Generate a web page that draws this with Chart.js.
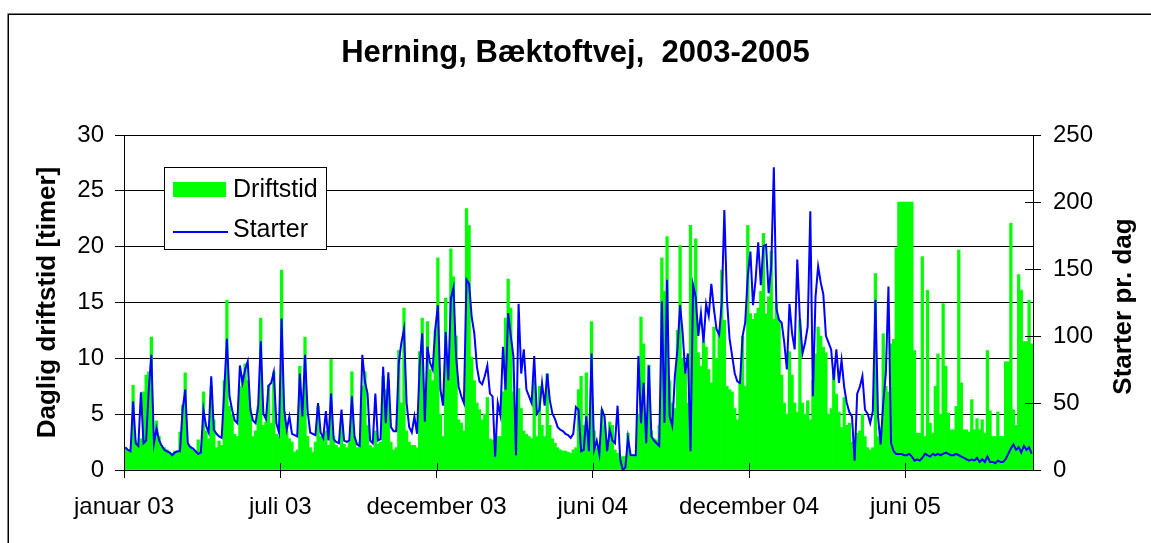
<!DOCTYPE html>
<html>
<head>
<meta charset="utf-8">
<script src="https://cdn.jsdelivr.net/npm/chart.js@4.4.1/dist/chart.umd.min.js"></script>
<style>
html,body{margin:0;padding:0;background:#fff;overflow:hidden}
#wrap{position:relative;width:1151px;height:543px}
</style>
</head>
<body>
<div id="wrap"><canvas id="c" width="1151" height="543"></canvas></div>
<script>
// ---------- data ----------
const titleText = 'Herning, Bæktoftvej,  2003-2005';
const leftAxisTitle = 'Daglig driftstid [timer]';
const rightAxisTitle = 'Starter pr. dag';
const seriesNames = ['Driftstid', 'Starter'];
// x categories: consecutive 3-day samples from start of January 2003
const tickLabels = ['januar 03', 'juli 03', 'december 03', 'juni 04', 'december 04', 'juni 05'];
const tickSamples = [-0.5, 59.5, 119.5, 179.5, 239.5, 299.5];

// daily operating time (hours), one value per 3-day sample
const driftstid = [
1.9,1.8,1.7,7.6,2.6,2.3,2.8,7.0,8.5,8.8,
11.9,2.6,4.4,3.0,2.2,2.0,1.8,1.6,1.5,1.7,
1.6,3.4,5.8,8.7,2.3,2.1,1.8,1.6,2.7,1.7,
7.0,3.5,2.8,7.5,4.5,2.0,2.6,2.2,8.0,15.2,
5.7,5.0,3.2,3.0,7.5,8.5,9.5,8.0,5.5,3.0,
3.5,5.7,13.6,4.0,4.3,7.6,4.2,8.8,3.2,3.0,
17.9,5.2,3.5,2.8,2.5,1.6,1.8,9.3,5.0,11.9,
3.0,2.0,1.6,2.5,5.7,3.0,2.8,3.5,2.2,9.9,
3.0,2.2,2.0,4.2,2.3,2.0,2.5,8.8,3.0,2.0,
2.5,7.5,8.8,4.0,2.2,2.0,3.5,2.3,2.5,8.4,
7.2,8.0,2.5,1.8,2.0,10.7,6.0,14.5,3.5,2.5,
2.2,2.2,2.0,10.6,13.6,7.0,13.3,9.0,8.0,12.5,
19.0,5.0,3.0,15.4,9.0,19.8,17.3,12.0,4.5,4.2,
3.5,23.4,21.9,10.1,8.0,6.0,5.4,4.5,5.0,6.5,
2.8,2.7,2.6,3.0,3.0,7.0,13.6,17.1,14.5,7.0,
3.5,7.3,5.5,3.5,3.2,3.0,2.8,8.0,3.0,7.5,
4.0,3.0,8.6,4.0,2.8,2.4,2.0,1.8,1.7,1.7,
1.6,1.5,1.8,2.0,7.2,8.4,4.0,8.7,3.0,13.3,
3.5,2.0,1.8,5.4,4.0,2.5,4.3,4.0,1.8,1.5,
1.2,1.2,1.2,3.3,1.2,1.2,1.3,5.0,13.7,11.3,
3.0,9.4,3.5,2.8,2.7,4.0,19.0,16.0,20.9,8.0,
6.0,5.5,12.5,20.1,10.0,8.7,6.0,21.9,16.0,20.7,
10.5,9.3,11.5,11.0,9.0,7.8,12.8,10.0,12.5,17.9,
13.4,7.5,7.2,7.0,5.5,4.5,8.0,12.0,7.5,21.9,
14.0,13.5,14.0,14.5,16.0,21.2,14.0,15.5,19.6,13.5,
15.0,13.4,8.5,6.0,5.0,10.6,8.5,6.0,5.2,13.4,
6.0,5.0,6.2,4.5,8.0,10.4,12.8,12.0,11.0,10.5,
5.0,5.5,8.7,6.8,5.2,3.8,6.5,4.0,4.2,2.5,
1.5,3.3,3.5,5.0,3.0,2.0,1.8,2.0,17.6,3.0,
3.8,12.2,7.5,7.0,11.3,11.7,19.9,24.0,24.0,24.0,
24.0,24.0,24.0,10.7,3.3,3.3,19.1,3.0,16.1,4.2,
3.3,7.5,10.4,5.0,14.9,9.3,5.1,3.6,3.6,5.7,
19.7,7.8,3.6,3.6,3.4,6.3,3.6,4.6,3.6,4.5,
3.3,10.7,5.3,3.0,3.0,5.2,3.0,3.0,9.7,9.7,
22.1,5.4,4.0,17.5,16.1,11.5,11.5,15.2,11.3
];

// starts per day, one value per 3-day sample
const starter = [
17,15,14,51,20,18,58,20,22,60,
86,20,31,22,18,15,14,13,11,13,
14,14,45,60,20,17,16,14,12,13,
45,33,28,70,30,27,25,24,60,98,
55,45,37,35,78,65,75,81,45,37,
35,47,96,42,38,63,65,73,35,28,
113,45,30,40,27,26,25,72,40,86,
44,28,27,26,50,28,24,44,22,57,
23,21,20,45,22,21,22,55,25,19,
18,86,66,57,22,20,57,22,23,77,
35,73,32,29,29,80,95,105,50,32,
28,40,27,77,102,36,92,80,75,105,
123,60,48,103,67,128,136,85,62,55,
50,142,139,114,102,77,66,64,70,78,
57,55,10,50,41,92,60,117,100,85,
11,124,72,90,60,55,50,85,42,45,
65,48,72,52,42,38,32,30,29,27,
26,24,27,47,45,14,15,40,14,87,
15,22,12,45,40,14,30,22,20,48,
8,0,2,24,11,11,11,85,35,65,
20,78,25,22,20,18,126,35,142,40,
33,70,90,123,102,72,87,14,138,129,
100,117,95,124,115,139,120,105,101,125,
194,127,98,85,72,66,65,100,110,145,
163,123,142,170,138,167,168,132,152,226,
120,112,110,95,75,124,102,90,157,112,
87,95,107,193,55,129,152,140,131,100,
95,90,67,90,65,82,62,50,43,40,
7,57,62,70,45,42,35,44,127,40,
19,50,72,137,20,14,12,12,12,11,
11,12,10,7,8,7,9,12,11,10,
12,11,12,11,12,13,12,11,11,12,
11,10,9,8,7,8,7,9,6,8,
6,10,6,6,5,7,6,6,8,12,
16,19,15,17,13,18,15,17,12
];

// ---------- chart ----------
const FONT = '"Liberation Sans", Arial, sans-serif';
Chart.defaults.font.family = FONT;
Chart.defaults.color = '#000';

const GREEN = '#00FF00';
const BLUE = '#0000FF';

const barData = driftstid.map((v, i) => ({x: i, y: v}));
const lineData = starter.map((v, i) => ({x: i, y: v}));

const decor = {
  id: 'decor',
  beforeDraw(chart) {
    const ctx = chart.ctx;
    ctx.save();
    ctx.fillStyle = '#fff';
    ctx.fillRect(0, 0, chart.width, chart.height);
    ctx.strokeStyle = '#000';
    ctx.lineWidth = 1.5;
    ctx.strokeRect(8.25, 14.25, chart.width + 40, chart.height + 40);
    ctx.restore();
  },
  afterDatasetsDraw(chart) {
    const ctx = chart.ctx;
    const area = chart.chartArea;
    const xs = chart.scales.x, y2 = chart.scales.y2;
    ctx.save();
    // inner halves of crossing tick marks
    ctx.strokeStyle = '#000';
    ctx.lineWidth = 1;
    ctx.beginPath();
    xs.ticks.forEach(t => {
      const px = Math.round(xs.getPixelForValue(t.value)) + 0.5;
      ctx.moveTo(px, area.bottom - 7);
      ctx.lineTo(px, area.bottom);
    });
    y2.ticks.forEach(t => {
      const py = Math.round(y2.getPixelForValue(t.value)) + 0.5;
      ctx.moveTo(area.right - 8, py);
      ctx.lineTo(area.right, py);
    });
    ctx.stroke();

    // right axis title (reads bottom to top)
    ctx.save();
    ctx.translate(1131, (area.top + area.bottom) / 2 + 4);
    ctx.rotate(-Math.PI / 2);
    ctx.font = 'bold 26px ' + FONT;
    ctx.fillStyle = '#000';
    ctx.textAlign = 'center';
    ctx.textBaseline = 'alphabetic';
    ctx.fillText(rightAxisTitle, 0, 0);
    ctx.restore();

    // legend box
    const lx = 164.5, ly = 167.5, lw = 162, lh = 82;
    ctx.fillStyle = '#fff';
    ctx.fillRect(lx, ly, lw, lh);
    ctx.strokeStyle = '#000';
    ctx.lineWidth = 1;
    ctx.strokeRect(lx, ly, lw, lh);
    const ds = chart.data.datasets;
    ctx.fillStyle = ds[1].backgroundColor;
    ctx.fillRect(173, 182, 53, 15);
    ctx.strokeStyle = ds[0].borderColor;
    ctx.lineWidth = 2;
    ctx.beginPath();
    ctx.moveTo(173, 232);
    ctx.lineTo(228, 232);
    ctx.stroke();
    ctx.fillStyle = '#000';
    ctx.font = '25px ' + FONT;
    ctx.textAlign = 'left';
    ctx.textBaseline = 'middle';
    ctx.fillText(ds[1].label, 233, 190);
    ctx.fillText(ds[0].label, 233, 230);
    ctx.restore();
  }
};

new Chart(document.getElementById('c'), {
  type: 'bar',
  data: {
    datasets: [
      {
        type: 'line',
        label: seriesNames[1],
        data: lineData,
        yAxisID: 'y2',
        borderColor: BLUE,
        backgroundColor: BLUE,
        borderWidth: 2,
        pointRadius: 0,
        tension: 0,
        order: 0
      },
      {
        type: 'bar',
        label: seriesNames[0],
        data: barData,
        yAxisID: 'y',
        backgroundColor: GREEN,
        borderWidth: 0,
        barPercentage: 1.0,
        categoryPercentage: 1.0,
        order: 1
      }
    ]
  },
  options: {
    responsive: false,
    animation: false,
    devicePixelRatio: 1,
    events: [],
    layout: {padding: 0},
    plugins: {
      legend: {display: false},
      tooltip: {enabled: false},
      title: {
        display: true,
        text: titleText,
        color: '#000',
        font: {size: 31, weight: 'bold', family: FONT, lineHeight: 1.2},
        padding: {top: 35, bottom: 62.8}
      }
    },
    scales: {
      x: {
        type: 'linear',
        min: -0.5,
        max: driftstid.length - 0.5,
        offset: false,
        afterBuildTicks: s => { s.ticks = tickSamples.map(v => ({value: v})); },
        afterFit: s => { s.height = 73; },
        ticks: {
          autoSkip: false,
          maxRotation: 0,
          minRotation: 0,
          padding: 15,
          font: {size: 24},
          color: '#000',
          callback: (v, i) => tickLabels[i]
        },
        grid: {drawOnChartArea: false, drawTicks: true, tickLength: 8, color: '#000', offset: false},
        border: {display: true, color: '#000', width: 1, z: 1}
      },
      y: {
        position: 'left',
        min: 0,
        max: 30,
        afterBuildTicks: s => { s.ticks = [0, 5, 10, 15, 20, 25, 30].map(v => ({value: v})); },
        afterFit: s => { s.width = 124; },
        ticks: {padding: 11, font: {size: 24}, color: '#000'},
        grid: {color: '#000', lineWidth: 1, drawTicks: true, tickLength: 9, tickColor: '#000'},
        border: {display: true, color: '#000', width: 1, z: 1},
        title: {
          display: true,
          text: leftAxisTitle,
          color: '#000',
          font: {size: 26, weight: 'bold', lineHeight: 1.2},
          padding: {top: 32, bottom: 0}
        }
      },
      y2: {
        position: 'right',
        min: 0,
        max: 250,
        afterBuildTicks: s => { s.ticks = [0, 50, 100, 150, 200, 250].map(v => ({value: v})); },
        afterFit: s => { s.width = 118; },
        ticks: {padding: 12, font: {size: 24}, color: '#000'},
        grid: {drawOnChartArea: false, drawTicks: true, tickLength: 8, color: '#000'},
        border: {display: true, color: '#000', width: 1, z: 1}
      }
    }
  },
  plugins: [decor]
});
</script>
</body>
</html>
